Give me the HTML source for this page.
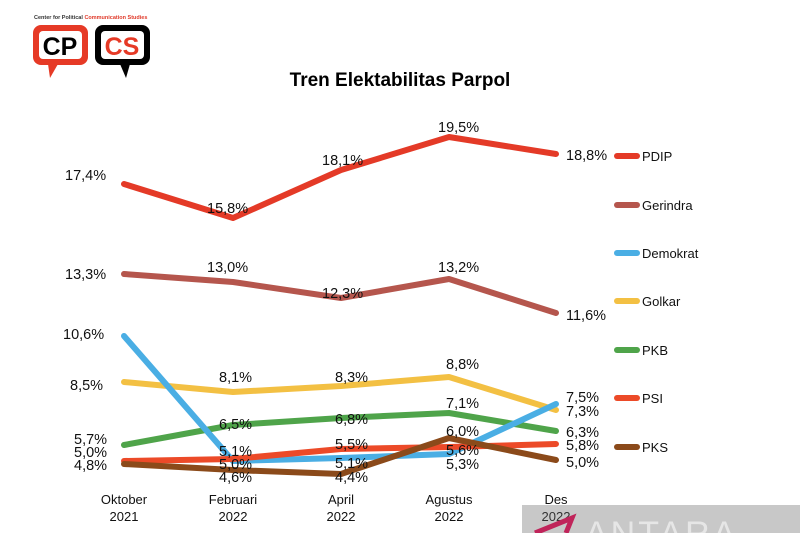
<!DOCTYPE html>
<html><head><meta charset="utf-8"><style>
body{margin:0;background:#fff;}
svg text{font-family:"Liberation Sans",sans-serif;}
</style></head><body>
<svg width="800" height="533" viewBox="0 0 800 533" xmlns="http://www.w3.org/2000/svg">
<rect width="800" height="533" fill="#fff"/>
<!-- logo -->
<text x="34" y="19" font-size="5.5" font-weight="bold" fill="#333">Center for Political <tspan fill="#e03a2a">Communication Studies</tspan></text>
<rect x="33" y="25" width="55" height="40" rx="8" fill="#e63a26"/>
<rect x="39" y="31" width="43" height="28" rx="4" fill="#fff"/>
<polygon points="48,64 58,64 50,78" fill="#e63a26"/>
<text x="60" y="55" font-size="25" font-weight="bold" text-anchor="middle" fill="#000">CP</text>
<rect x="95" y="25" width="55" height="40" rx="8" fill="#000"/>
<rect x="101" y="31" width="43" height="28" rx="4" fill="#fff"/>
<polygon points="120,64 130,64 126,78" fill="#000"/>
<text x="122" y="55" font-size="25" font-weight="bold" text-anchor="middle" fill="#e63a26">CS</text>
<text x="400" y="86" font-size="19" font-weight="bold" text-anchor="middle" fill="#000">Tren Elektabilitas Parpol</text>
<g fill="none" stroke-width="6" stroke-linejoin="round" stroke-linecap="round">
<polyline stroke="#e43a27" points="124,184 233,218 341,170 449,137 556,154"/>
<polyline stroke="#b5564d" points="124,274 233,282 341,298 449,279 556,313"/>
<polyline stroke="#f3c043" points="124,382 233,392 341,386 449,377 556,410"/>
<polyline stroke="#4fa44a" points="124,445 233,425 341,418 449,413 556,431"/>
<polyline stroke="#4aaee4" points="124,336 233,461 341,458 449,454 556,404"/>
<polyline stroke="#ec4a28" points="124,461 233,459 341,449 449,447 556,444"/>
<polyline stroke="#8b4a1a" points="124,464 233,470 341,474 449,438 556,460"/>
</g>
<g font-size="14.5" fill="#111">
<text x="65" y="180">17,4%</text><text x="207" y="213">15,8%</text><text x="322" y="165">18,1%</text><text x="438" y="132">19,5%</text><text x="566" y="160">18,8%</text>
<text x="65" y="279">13,3%</text><text x="207" y="272">13,0%</text><text x="322" y="298">12,3%</text><text x="438" y="272">13,2%</text><text x="566" y="320">11,6%</text>
<text x="63" y="339">10,6%</text>
<text x="70" y="390">8,5%</text><text x="219" y="382">8,1%</text><text x="335" y="382">8,3%</text><text x="446" y="369">8,8%</text>
<text x="566" y="402">7,5%</text><text x="566" y="416">7,3%</text>
<text x="219" y="429">6,5%</text><text x="335" y="424">6,8%</text><text x="446" y="408">7,1%</text><text x="566" y="437">6,3%</text>
<text x="74" y="444">5,7%</text><text x="74" y="457">5,0%</text><text x="74" y="470">4,8%</text>
<text x="219" y="456">5,1%</text><text x="219" y="469">5,0%</text><text x="219" y="482">4,6%</text>
<text x="335" y="449">5,5%</text><text x="335" y="468">5,1%</text><text x="335" y="482">4,4%</text>
<text x="446" y="436">6,0%</text><text x="446" y="455">5,6%</text><text x="446" y="469">5,3%</text>
<text x="566" y="450">5,8%</text><text x="566" y="467">5,0%</text>
</g>
<g font-size="13" fill="#111" text-anchor="middle">
<text x="124" y="504">Oktober</text><text x="124" y="521">2021</text>
<text x="233" y="504">Februari</text><text x="233" y="521">2022</text>
<text x="341" y="504">April</text><text x="341" y="521">2022</text>
<text x="449" y="504">Agustus</text><text x="449" y="521">2022</text>
</g>
<!-- watermark -->
<rect x="522" y="505" width="278" height="28" fill="#c8c8c8"/>
<text x="556" y="504" font-size="13" fill="#111" text-anchor="middle">Des</text>
<text x="556" y="521" font-size="13" fill="#333" text-anchor="middle">2022</text>
<path d="M535,533 L572,518 L566,533" stroke="#c0245a" stroke-width="5" fill="none"/>
<text x="585" y="545" font-size="34" fill="#e6e6e6" letter-spacing="3">ANTARA</text>
<g stroke-width="6" stroke-linecap="round">
<line x1="617" y1="156" x2="637" y2="156" stroke="#e43a27"/>
<line x1="617" y1="205" x2="637" y2="205" stroke="#b5564d"/>
<line x1="617" y1="253" x2="637" y2="253" stroke="#4aaee4"/>
<line x1="617" y1="301" x2="637" y2="301" stroke="#f3c043"/>
<line x1="617" y1="350" x2="637" y2="350" stroke="#4fa44a"/>
<line x1="617" y1="398" x2="637" y2="398" stroke="#ec4a28"/>
<line x1="617" y1="447" x2="637" y2="447" stroke="#8b4a1a"/>
</g>
<g font-size="13" fill="#111">
<text x="642" y="161">PDIP</text><text x="642" y="210">Gerindra</text><text x="642" y="258">Demokrat</text>
<text x="642" y="306">Golkar</text><text x="642" y="355">PKB</text><text x="642" y="403">PSI</text><text x="642" y="452">PKS</text>
</g>
</svg>
</body></html>
